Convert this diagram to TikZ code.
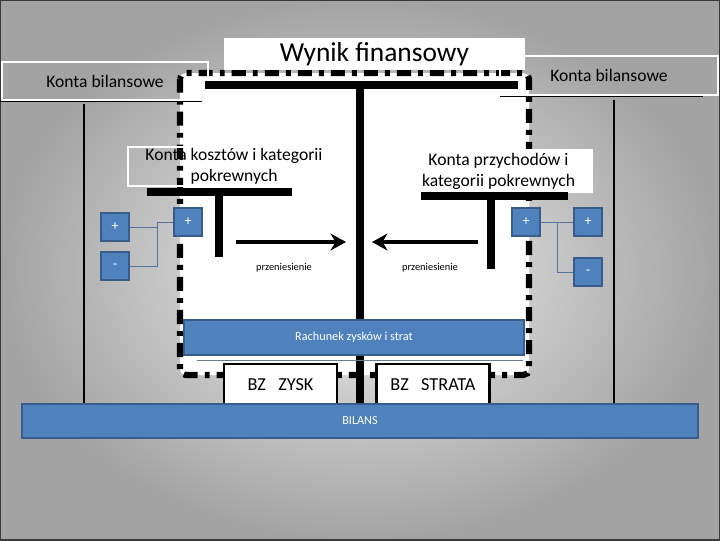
\documentclass[tikz,border=0pt]{standalone}
\usepackage{fontspec}
\setmainfont{Carlito}
\usetikzlibrary{arrows.meta,calc}
\definecolor{boxblue}{RGB}{79,129,189}
\definecolor{boxedge}{RGB}{56,93,138}
\definecolor{linkblue}{RGB}{85,115,160}
\tikzset{
px/.style={x=0.025cm,y=-0.025cm},
titlebox/.style={rectangle,fill=white,minimum width=7.525cm,minimum height=0.8cm,inner sep=0pt,font=\fontsize{19.5}{22}\selectfont},
kontobox/.style={rectangle,draw=white,line width=1.5pt,inner sep=0pt,font=\fontsize{12.5}{15}\selectfont,align=center},
sign/.style={rectangle,fill=boxblue,draw=boxedge,line width=1.5pt,minimum size=0.72cm,inner sep=0pt,text=white,font=\fontsize{10}{12}\selectfont},
bar/.style={rectangle,fill=boxblue,draw=boxedge,line width=1.5pt,inner sep=0pt,text=white,font=\fontsize{8.7}{10}\selectfont},
bzbox/.style={rectangle,fill=white,draw=black,line width=1.5pt,minimum width=2.825cm,minimum height=1.05cm,inner sep=0pt,font=\fontsize{13}{15}\selectfont},
tline/.style={line width=5pt},
thin/.style={line width=0.8pt},
link/.style={draw=linkblue,line width=0.7pt},
transfer/.style={line width=3pt,-{Stealth[length=11pt,width=12pt]}},
note/.style={font=\fontsize{7.4}{9}\selectfont},
}
\begin{document}
\begin{tikzpicture}[px]
\useasboundingbox (0,0) rectangle (720,540);
\shade[inner color=gray!12,outer color=gray!72] (0,0) rectangle (720,540);
\draw[gray!45!black,line width=2pt] (0,0) rectangle (720,540);

\filldraw[fill=white,draw=black,line width=4.3pt,rounded corners=4pt,
  dash pattern=on 10pt off 5pt on 3.5pt off 5pt] (180,73) rectangle (529,375);

\draw[thin] (0,101) -- (202,101);
\draw[thin] (84,104) -- (84,404);
\draw[thin] (500,96) -- (703,96);
\draw[thin] (614,100) -- (614,404);

\node[titlebox] (wynik) at (374.5,54) {Wynik finansowy};
\node[kontobox,minimum width=5.15cm,minimum height=0.95cm] (bilL) at (105,81) {Konta bilansowe};
\node[kontobox,minimum width=5.45cm,minimum height=0.975cm] (bilR) at (609,75.5) {Konta bilansowe};

\node[kontobox,minimum width=5.3cm,minimum height=0.975cm,font=\fontsize{12.5}{14.5}\selectfont] (koszty) at (234,166.5) {Konta kosztów i kategorii\\pokrewnych};
\node[kontobox,fill=white,minimum width=4.675cm,minimum height=1.05cm,font=\fontsize{12.5}{15}\selectfont] (przych) at (498.5,171) {Konta przychodów i\\kategorii pokrewnych};

\draw[tline] (205,85) -- (518,85);
\draw[tline,line width=5.5pt] (360,85) -- (360,404);
\draw[tline] (147,192) -- (292,192);
\draw[tline] (219,192) -- (219,257);
\draw[tline] (421,196) -- (568,196);
\draw[tline] (491,196) -- (491,269);

\coordinate (kStart) at (236,242);
\coordinate (kEnd) at (346,242);
\coordinate (pStart) at (478,242);
\coordinate (pEnd) at (372,242);
\draw[transfer] (kStart) -- (kEnd);
\draw[transfer] (pStart) -- (pEnd);
\node[note] (przenL) at (284,268) {przeniesienie};
\node[note] (przenR) at (430,268) {przeniesienie};

\node[sign] (lp) at (115,227) {+};
\node[sign] (lm) at (115,266) {-};
\node[sign] (ip) at (188,222) {+};
\node[sign] (rp) at (526,222) {+};
\node[sign] (op) at (588,222) {+};
\node[sign] (om) at (588,272) {-};

\coordinate (jl) at (157,222);
\coordinate (jr) at (557,222);
\draw[link] (lm.east) -| (jl) -- (ip.west);
\draw[link] (lp.east) -- (lp.east -| jl);
\draw[link] (rp.east) -- (op.west);
\draw[link] (jr) |- (om.west);

\node[bar,minimum width=8.5cm,minimum height=0.875cm] (rzis) at (354,337.5) {Rachunek zysków i strat};
\draw[link,draw=gray!60!linkblue] (197,360) -- (523,360);

\node[bzbox] (zysk) at (280.5,385) {BZ\ \ \ ZYSK};
\node[bzbox] (strata) at (433,385) {BZ\ \ \ STRATA};

\node[bar,minimum width=16.9cm,minimum height=0.85cm] (bilans) at (360,421) {BILANS};
\end{tikzpicture}
\end{document}
